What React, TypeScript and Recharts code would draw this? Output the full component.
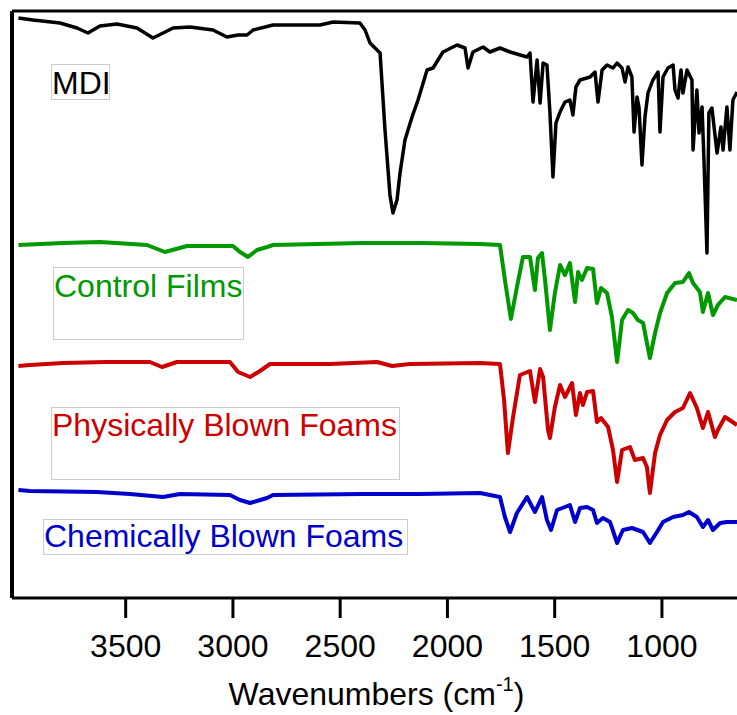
import { LineChart, Line, XAxis, YAxis, ReferenceLine, Label } from "recharts";

// wavenumber (cm-1) positions and stacked transmittance (a.u.) per spectrum
const mdiWavenumbers = [
  4000, 3932, 3806, 3727, 3676, 3620, 3541, 3447, 3373, 3279, 3200, 3093, 3028, 2976, 2934, 2906, 2813, 2594,
  2533, 2408, 2384, 2361, 2314, 2291, 2268, 2254, 2235, 2221, 2198, 2165, 2137, 2095, 2067, 2021, 1955, 1918,
  1904, 1881, 1834, 1802, 1755, 1708, 1629, 1615, 1601, 1582, 1568, 1554, 1536, 1522, 1508, 1494, 1475, 1452,
  1429, 1415, 1401, 1382, 1335, 1312, 1298, 1279, 1256, 1228, 1209, 1186, 1172, 1158, 1140, 1130, 1116, 1107,
  1093, 1079, 1065, 1042, 1018, 1009, 995, 972, 948, 939, 925, 911, 902, 883, 860, 855, 837, 827, 813, 804, 790,
  781, 767, 743, 725, 715, 697, 683, 669, 650,
];
const mdiValues = [
  580, 578, 575, 570, 565, 572, 574, 570, 560, 570, 571, 568, 561, 563, 563, 568, 573, 573, 576, 575, 568, 555,
  545, 468, 403, 385, 398, 425, 458, 481, 498, 528, 530, 546, 553, 550, 530, 546, 551, 546, 550, 546, 541, 545,
  496, 538, 495, 535, 533, 485, 421, 475, 486, 496, 498, 483, 511, 518, 521, 526, 496, 528, 533, 530, 535, 530,
  516, 531, 521, 466, 501, 491, 433, 481, 505, 518, 526, 466, 521, 530, 533, 508, 500, 528, 505, 528, 518, 448,
  508, 465, 491, 438, 345, 485, 490, 445, 471, 448, 491, 448, 498, 506,
];

const controlWavenumbers = [
  4000, 3792, 3620, 3401, 3317, 3214, 3000, 2967, 2930, 2888, 2841, 2813, 2394, 2128, 1848, 1755, 1732, 1704,
  1676, 1648, 1615, 1592, 1578, 1559, 1545, 1522, 1499, 1475, 1452, 1429, 1405, 1391, 1373, 1349, 1321, 1303,
  1284, 1256, 1233, 1209, 1186, 1158, 1135, 1112, 1088, 1056, 1032, 1009, 976, 939, 902, 874, 855, 823, 809,
  785, 762, 739, 706, 650,
];
const controlValues = [
  353, 355, 356, 353, 346, 352, 352, 346, 341, 348, 351, 353, 355, 355, 354, 353, 318, 279, 311, 341, 341, 308,
  340, 345, 318, 268, 305, 333, 323, 335, 296, 326, 318, 330, 329, 295, 310, 305, 281, 236, 278, 288, 285, 278,
  275, 240, 265, 285, 305, 315, 316, 325, 315, 306, 286, 305, 283, 293, 301, 298,
];

const physicalWavenumbers = [
  4000, 3946, 3792, 3587, 3387, 3331, 3261, 3014, 2976, 2920, 2874, 2827, 2548, 2328, 2258, 2175, 1848, 1755,
  1736, 1718, 1694, 1662, 1615, 1592, 1568, 1554, 1531, 1522, 1499, 1475, 1452, 1419, 1401, 1382, 1368, 1349,
  1321, 1303, 1284, 1251, 1228, 1209, 1186, 1149, 1126, 1088, 1070, 1056, 1032, 1009, 976, 939, 902, 869, 837,
  809, 785, 753, 739, 706, 650,
];
const physicalValues = [
  232, 233, 235, 236, 236, 231, 236, 236, 226, 221, 227, 234, 234, 236, 232, 234, 235, 234, 198, 145, 181, 223,
  227, 196, 229, 221, 168, 160, 191, 213, 201, 215, 183, 205, 193, 206, 207, 176, 180, 171, 148, 116, 148, 151,
  138, 140, 131, 105, 145, 163, 178, 186, 190, 205, 190, 170, 186, 161, 168, 181, 173,
];

const chemicalWavenumbers = [
  4000, 3946, 3634, 3480, 3326, 3247, 3014, 2967, 2920, 2841, 2813, 2394, 2128, 1848, 1755, 1732, 1708, 1676,
  1629, 1592, 1559, 1536, 1517, 1489, 1452, 1429, 1405, 1382, 1349, 1321, 1303, 1275, 1242, 1209, 1182, 1140,
  1088, 1056, 1023, 995, 948, 902, 874, 837, 809, 785, 762, 729, 697, 650,
];
const chemicalValues = [
  108, 107, 106, 104, 101, 104, 103, 98, 95, 100, 103, 104, 104, 105, 101, 81, 66, 85, 101, 86, 101, 78, 68, 88,
  91, 93, 76, 90, 91, 88, 75, 80, 76, 55, 68, 70, 66, 55, 66, 76, 81, 83, 86, 81, 71, 78, 68, 75, 76, 76,
];

const xTicks = [3500, 3000, 2500, 2000, 1500, 1000];

const zip = (ws: number[], vs: number[]) => ws.map((w, i) => ({ w, v: vs[i] }));

const series = [
  { name: "MDI", color: "#000000", width: 3.5, data: zip(mdiWavenumbers, mdiValues) },
  { name: "Control Films", color: "#009900", width: 4, data: zip(controlWavenumbers, controlValues) },
  { name: "Physically Blown Foams", color: "#cc0000", width: 4, data: zip(physicalWavenumbers, physicalValues) },
  { name: "Chemically Blown Foams", color: "#0000cc", width: 4, data: zip(chemicalWavenumbers, chemicalValues) },
];

const FONT = "'Liberation Sans', Arial, sans-serif";

// eslint-disable-next-line @typescript-eslint/no-explicit-any
function AxisTitle({ viewBox }: any) {
  const cx = viewBox.x + viewBox.width / 2 + 2;
  const y = viewBox.y + 107;
  return (
    <text x={cx} y={y} textAnchor="middle" fontFamily={FONT} fontSize={32} fill="#000">
      <tspan>Wavenumbers (cm</tspan>
      <tspan fontSize={20} dy={-14}>-1</tspan>
      <tspan dy={14}>)</tspan>
    </text>
  );
}

const labelBoxes = [
  { text: "MDI", color: "#000000", left: 51, top: 64, width: 59, height: 36, pad: 2 },
  { text: "Control Films", color: "#009900", left: 53, top: 267, width: 191, height: 73, pad: 2 },
  { text: "Physically Blown Foams", color: "#cc0000", left: 51, top: 407, width: 349, height: 73, pad: 1 },
  { text: "Chemically Blown Foams", color: "#0000cc", left: 43, top: 519, width: 365, height: 36, pad: 0 },
];

export default function App() {
  return (
    <div style={{ position: "absolute", left: 0, top: 0, width: 737, height: 715, background: "#fff" }}>
      <LineChart width={737} height={715} margin={{ top: 11, right: 0, left: 12, bottom: 0 }}>
        <XAxis
          dataKey="w"
          type="number"
          domain={[650, 4030]}
          reversed
          allowDataOverflow
          ticks={xTicks}
          tickSize={20}
          tickMargin={16}
          height={117}
          axisLine={{ stroke: "#000", strokeWidth: 3 }}
          tickLine={{ stroke: "#000", strokeWidth: 3 }}
          tick={{ fontSize: 32, fill: "#000", fontFamily: FONT }}
        >
          <Label content={AxisTitle} />
        </XAxis>
        <YAxis type="number" domain={[0, 587]} hide allowDataOverflow />
        <ReferenceLine x={4030} stroke="#000" strokeWidth={4} />
        <ReferenceLine y={587} stroke="#000" strokeWidth={3} />
        {series.map((s) => (
          <Line
            key={s.name}
            data={s.data}
            dataKey="v"
            name={s.name}
            type="linear"
            stroke={s.color}
            strokeWidth={s.width}
            strokeLinejoin="round"
            dot={false}
            activeDot={false}
            isAnimationActive={false}
          />
        ))}
      </LineChart>
      {labelBoxes.map((b) => (
        <div
          key={b.text}
          style={{
            position: "absolute",
            left: b.left,
            top: b.top,
            width: b.width,
            height: b.height,
            boxSizing: "border-box",
            border: "1px solid #cccccc",
            paddingTop: b.pad,
            fontFamily: FONT,
            fontSize: 32,
            lineHeight: "32px",
            color: b.color,
            whiteSpace: "nowrap",
          }}
        >
          {b.text}
        </div>
      ))}
    </div>
  );
}
